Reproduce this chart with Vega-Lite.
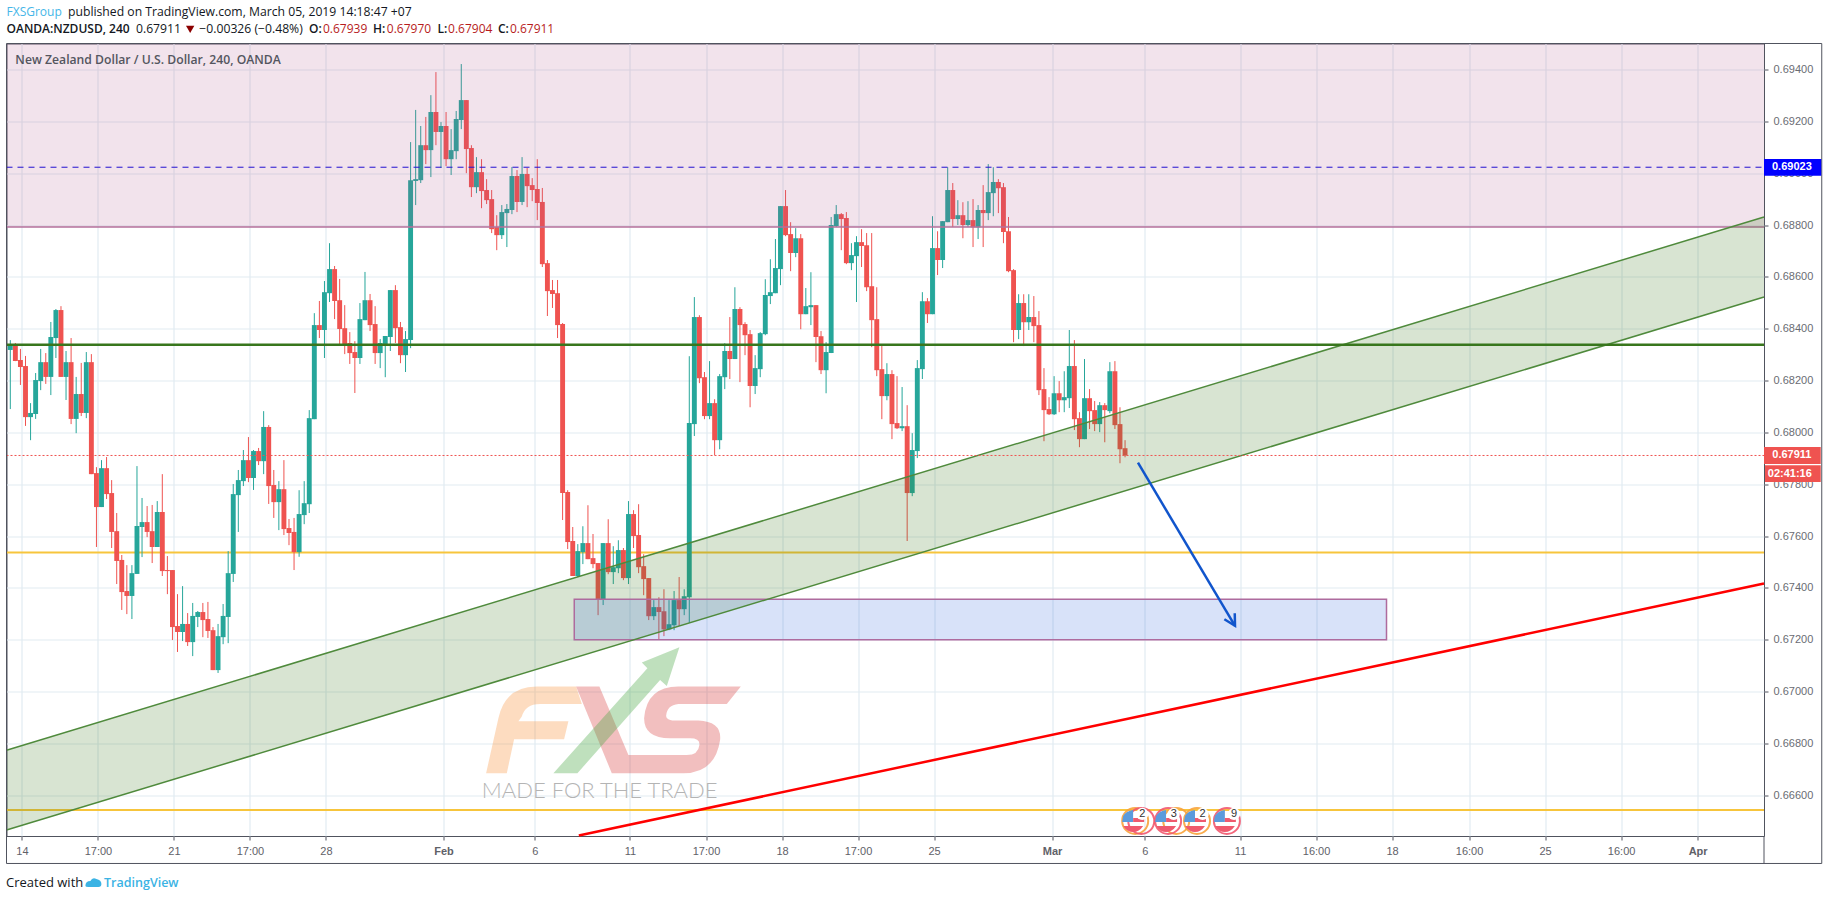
{"$schema":"https://vega.github.io/schema/vega-lite/v6.json","width":1757.5,"height":792.5,"autosize":{"type":"none"},"padding":{"left":6.5,"top":43.5,"right":64,"bottom":64},"background":"#ffffff","config":{"view":{"stroke":"#50535e","strokeWidth":1},"text":{"font":"Open Sans"}},
"datasets":{"candles":[
{"i":0,"o":0.68318,"h":0.68356,"l":0.6809,"c":0.68337},{"i":1,"o":0.68337,"h":0.68345,"l":0.68275,"c":0.68275},{"i":2,"o":0.68279,"h":0.68322,"l":0.68183,"c":0.68252},{"i":3,"o":0.68256,"h":0.68295,"l":0.68025,"c":0.68059},{"i":4,"o":0.68059,"h":0.68113,"l":0.6797,"c":0.68075},{"i":5,"o":0.68071,"h":0.68229,"l":0.68052,"c":0.68202},{"i":6,"o":0.68198,"h":0.68322,"l":0.68163,"c":0.68271},{"i":7,"o":0.68271,"h":0.68306,"l":0.68187,"c":0.68214},{"i":8,"o":0.68214,"h":0.68426,"l":0.68144,"c":0.68368},{"i":9,"o":0.68364,"h":0.68476,"l":0.68287,"c":0.68472},
{"i":10,"o":0.68472,"h":0.68487,"l":0.68214,"c":0.68214},{"i":11,"o":0.68214,"h":0.68314,"l":0.68125,"c":0.68271},{"i":12,"o":0.68271,"h":0.68364,"l":0.68032,"c":0.68052},{"i":13,"o":0.68052,"h":0.68214,"l":0.67997,"c":0.68148},{"i":14,"o":0.68148,"h":0.68268,"l":0.68063,"c":0.68075},{"i":15,"o":0.68075,"h":0.6831,"l":0.68055,"c":0.68271},{"i":16,"o":0.68271,"h":0.68302,"l":0.67839,"c":0.67839},{"i":17,"o":0.67843,"h":0.67866,"l":0.67558,"c":0.67712},{"i":18,"o":0.67712,"h":0.67893,"l":0.67712,"c":0.67862},{"i":19,"o":0.67862,"h":0.67905,"l":0.67743,"c":0.67762},
{"i":20,"o":0.67766,"h":0.67816,"l":0.67554,"c":0.67616},{"i":21,"o":0.67619,"h":0.67689,"l":0.67415,"c":0.67504},{"i":22,"o":0.67508,"h":0.67527,"l":0.67315,"c":0.67384},{"i":23,"o":0.67388,"h":0.67488,"l":0.67299,"c":0.67369},{"i":24,"o":0.67369,"h":0.67488,"l":0.6728,"c":0.67457},{"i":25,"o":0.67454,"h":0.6787,"l":0.67454,"c":0.67639},{"i":26,"o":0.67635,"h":0.67747,"l":0.67519,"c":0.67654},{"i":27,"o":0.67654,"h":0.67716,"l":0.67596,"c":0.67616},{"i":28,"o":0.67619,"h":0.6772,"l":0.67496,"c":0.67558},{"i":29,"o":0.67558,"h":0.67735,"l":0.67558,"c":0.67693},
{"i":30,"o":0.67693,"h":0.67839,"l":0.67446,"c":0.67465},{"i":31,"o":0.67469,"h":0.67523,"l":0.67376,"c":0.67465},{"i":32,"o":0.67469,"h":0.67469,"l":0.67199,"c":0.67249},{"i":33,"o":0.67253,"h":0.67376,"l":0.67153,"c":0.6723},{"i":34,"o":0.6723,"h":0.67407,"l":0.67195,"c":0.67261},{"i":35,"o":0.67261,"h":0.67303,"l":0.67176,"c":0.67191},{"i":36,"o":0.67191,"h":0.67342,"l":0.67137,"c":0.67292},{"i":37,"o":0.67288,"h":0.67311,"l":0.67249,"c":0.67307},{"i":38,"o":0.67307,"h":0.67342,"l":0.6721,"c":0.67276},{"i":39,"o":0.6728,"h":0.67346,"l":0.67207,"c":0.67234},
{"i":40,"o":0.67237,"h":0.67249,"l":0.67083,"c":0.67083},{"i":41,"o":0.67083,"h":0.67261,"l":0.67072,"c":0.67214},{"i":42,"o":0.6721,"h":0.67338,"l":0.67183,"c":0.67292},{"i":43,"o":0.67288,"h":0.67542,"l":0.67187,"c":0.67457},{"i":44,"o":0.67454,"h":0.67801,"l":0.67423,"c":0.67762},{"i":45,"o":0.67758,"h":0.67855,"l":0.67616,"c":0.67816},{"i":46,"o":0.67812,"h":0.67932,"l":0.67793,"c":0.67893},{"i":47,"o":0.67893,"h":0.67982,"l":0.67808,"c":0.67824},{"i":48,"o":0.67824,"h":0.67932,"l":0.67778,"c":0.67928},{"i":49,"o":0.67928,"h":0.6794,"l":0.67874,"c":0.67889},
{"i":50,"o":0.67889,"h":0.68082,"l":0.67839,"c":0.68021},{"i":51,"o":0.68021,"h":0.68028,"l":0.67724,"c":0.67793},{"i":52,"o":0.67797,"h":0.67855,"l":0.6767,"c":0.67731},{"i":53,"o":0.67731,"h":0.67812,"l":0.67623,"c":0.67781},{"i":54,"o":0.67781,"h":0.67893,"l":0.67604,"c":0.67627},{"i":55,"o":0.67631,"h":0.67666,"l":0.67565,"c":0.67612},{"i":56,"o":0.67616,"h":0.6767,"l":0.67469,"c":0.67538},{"i":57,"o":0.67538,"h":0.67777,"l":0.6752,"c":0.67685},{"i":58,"o":0.67681,"h":0.67812,"l":0.67646,"c":0.67727},{"i":59,"o":0.67723,"h":0.68086,"l":0.67689,"c":0.68055},
{"i":60,"o":0.68051,"h":0.6846,"l":0.68051,"c":0.68414},{"i":61,"o":0.68414,"h":0.68507,"l":0.68364,"c":0.68395},{"i":62,"o":0.68395,"h":0.68584,"l":0.68287,"c":0.68541},{"i":63,"o":0.68537,"h":0.6873,"l":0.68503,"c":0.6863},{"i":64,"o":0.6863,"h":0.68642,"l":0.68437,"c":0.68507},{"i":65,"o":0.6851,"h":0.68592,"l":0.68341,"c":0.68399},{"i":66,"o":0.68402,"h":0.68491,"l":0.68302,"c":0.68341},{"i":67,"o":0.68345,"h":0.68387,"l":0.68264,"c":0.68306},{"i":68,"o":0.6831,"h":0.68352,"l":0.68152,"c":0.68287},{"i":69,"o":0.68287,"h":0.68499,"l":0.68264,"c":0.68437},
{"i":70,"o":0.68433,"h":0.68619,"l":0.68433,"c":0.6851},{"i":71,"o":0.6851,"h":0.68534,"l":0.68391,"c":0.68414},{"i":72,"o":0.68418,"h":0.68487,"l":0.68264,"c":0.68306},{"i":73,"o":0.68306,"h":0.6836,"l":0.68248,"c":0.68345},{"i":74,"o":0.68341,"h":0.68372,"l":0.68213,"c":0.68372},{"i":75,"o":0.68368,"h":0.68549,"l":0.68314,"c":0.68549},{"i":76,"o":0.68549,"h":0.68568,"l":0.68345,"c":0.68402},{"i":77,"o":0.68406,"h":0.68426,"l":0.68267,"c":0.68298},{"i":78,"o":0.68298,"h":0.68391,"l":0.68233,"c":0.6836},{"i":79,"o":0.68356,"h":0.6912,"l":0.68325,"c":0.68973},
{"i":80,"o":0.6897,"h":0.69244,"l":0.68877,"c":0.68977},{"i":81,"o":0.68973,"h":0.69182,"l":0.68962,"c":0.69108},{"i":82,"o":0.69108,"h":0.69217,"l":0.69035,"c":0.69089},{"i":83,"o":0.69089,"h":0.69301,"l":0.68985,"c":0.69236},{"i":84,"o":0.69236,"h":0.6939,"l":0.69108,"c":0.69159},{"i":85,"o":0.69159,"h":0.69197,"l":0.6902,"c":0.69182},{"i":86,"o":0.69182,"h":0.69236,"l":0.69027,"c":0.69054},{"i":87,"o":0.69054,"h":0.6917,"l":0.68993,"c":0.69089},{"i":88,"o":0.69085,"h":0.6924,"l":0.69054,"c":0.69209},{"i":89,"o":0.69205,"h":0.69421,"l":0.6917,"c":0.69282},
{"i":90,"o":0.69282,"h":0.69282,"l":0.69,"c":0.69093},{"i":91,"o":0.69097,"h":0.69108,"l":0.68908,"c":0.68946},{"i":92,"o":0.68946,"h":0.69062,"l":0.68923,"c":0.69004},{"i":93,"o":0.69004,"h":0.69054,"l":0.68865,"c":0.68931},{"i":94,"o":0.68935,"h":0.68977,"l":0.68881,"c":0.68896},{"i":95,"o":0.689,"h":0.68935,"l":0.68769,"c":0.68784},{"i":96,"o":0.68792,"h":0.68838,"l":0.68703,"c":0.68761},{"i":97,"o":0.68761,"h":0.68877,"l":0.68746,"c":0.6885},{"i":98,"o":0.68846,"h":0.68881,"l":0.68715,"c":0.68862},{"i":99,"o":0.68858,"h":0.69024,"l":0.68842,"c":0.68989},
{"i":100,"o":0.68989,"h":0.69012,"l":0.6885,"c":0.68889},{"i":101,"o":0.68889,"h":0.69062,"l":0.68877,"c":0.68997},{"i":102,"o":0.68997,"h":0.6902,"l":0.68869,"c":0.6895},{"i":103,"o":0.68954,"h":0.68981,"l":0.68892,"c":0.68935},{"i":104,"o":0.68939,"h":0.69054,"l":0.68819,"c":0.68885},{"i":105,"o":0.68889,"h":0.68943,"l":0.68638,"c":0.68649},{"i":106,"o":0.68653,"h":0.68665,"l":0.68449,"c":0.68545},{"i":107,"o":0.68549,"h":0.68588,"l":0.6848,"c":0.68534},{"i":108,"o":0.68537,"h":0.68588,"l":0.68364,"c":0.68414},{"i":109,"o":0.68418,"h":0.68422,"l":0.67662,"c":0.67766},
{"i":110,"o":0.6777,"h":0.67777,"l":0.6755,"c":0.67577},{"i":111,"o":0.67581,"h":0.67635,"l":0.67446,"c":0.67446},{"i":112,"o":0.67446,"h":0.67569,"l":0.67442,"c":0.67542},{"i":113,"o":0.67538,"h":0.67638,"l":0.67492,"c":0.67573},{"i":114,"o":0.67573,"h":0.67719,"l":0.67511,"c":0.67511},{"i":115,"o":0.67515,"h":0.67608,"l":0.67476,"c":0.67492},{"i":116,"o":0.67496,"h":0.67496,"l":0.67295,"c":0.67357},{"i":117,"o":0.67357,"h":0.67573,"l":0.67334,"c":0.67573},{"i":118,"o":0.67573,"h":0.67665,"l":0.67453,"c":0.67461},{"i":119,"o":0.67461,"h":0.67561,"l":0.67415,"c":0.6748},
{"i":120,"o":0.67476,"h":0.67584,"l":0.67457,"c":0.67546},{"i":121,"o":0.67546,"h":0.67554,"l":0.6743,"c":0.67438},{"i":122,"o":0.67438,"h":0.67735,"l":0.67415,"c":0.67685},{"i":123,"o":0.67685,"h":0.677,"l":0.67554,"c":0.676},{"i":124,"o":0.67604,"h":0.67723,"l":0.67457,"c":0.6748},{"i":125,"o":0.67484,"h":0.6753,"l":0.67372,"c":0.67434},{"i":126,"o":0.67438,"h":0.67438,"l":0.67276,"c":0.67291},{"i":127,"o":0.67291,"h":0.67353,"l":0.67276,"c":0.67326},{"i":128,"o":0.67326,"h":0.67364,"l":0.67201,"c":0.67307},{"i":129,"o":0.6731,"h":0.67395,"l":0.67214,"c":0.6724},
{"i":130,"o":0.6724,"h":0.67353,"l":0.67237,"c":0.6726},{"i":131,"o":0.67256,"h":0.67388,"l":0.67237,"c":0.67353},{"i":132,"o":0.67353,"h":0.67442,"l":0.67253,"c":0.67318},{"i":133,"o":0.67318,"h":0.67395,"l":0.67295,"c":0.67368},{"i":134,"o":0.67364,"h":0.68294,"l":0.67265,"c":0.68036},{"i":135,"o":0.68032,"h":0.68522,"l":0.67986,"c":0.68445},{"i":136,"o":0.68445,"h":0.68452,"l":0.6819,"c":0.68209},{"i":137,"o":0.68213,"h":0.68233,"l":0.68051,"c":0.68063},{"i":138,"o":0.68063,"h":0.68275,"l":0.68051,"c":0.68113},{"i":139,"o":0.68113,"h":0.68128,"l":0.67912,"c":0.6797},
{"i":140,"o":0.6797,"h":0.68225,"l":0.67935,"c":0.68217},{"i":141,"o":0.68213,"h":0.68344,"l":0.68167,"c":0.68314},{"i":142,"o":0.68314,"h":0.68445,"l":0.68206,"c":0.68283},{"i":143,"o":0.68283,"h":0.6856,"l":0.68283,"c":0.68476},{"i":144,"o":0.68476,"h":0.68483,"l":0.68194,"c":0.68414},{"i":145,"o":0.68418,"h":0.68425,"l":0.68298,"c":0.68375},{"i":146,"o":0.68379,"h":0.68395,"l":0.68097,"c":0.68179},{"i":147,"o":0.68179,"h":0.68298,"l":0.68148,"c":0.68248},{"i":148,"o":0.68244,"h":0.68387,"l":0.68213,"c":0.68383},{"i":149,"o":0.68379,"h":0.68591,"l":0.68375,"c":0.6853},
{"i":150,"o":0.68526,"h":0.68668,"l":0.68495,"c":0.68541},{"i":151,"o":0.68537,"h":0.68746,"l":0.68537,"c":0.68634},{"i":152,"o":0.6863,"h":0.68873,"l":0.68568,"c":0.68873},{"i":153,"o":0.68873,"h":0.68935,"l":0.68757,"c":0.68761},{"i":154,"o":0.68765,"h":0.68811,"l":0.68622,"c":0.68692},{"i":155,"o":0.68692,"h":0.68788,"l":0.68676,"c":0.68749},{"i":156,"o":0.68749,"h":0.68765,"l":0.68398,"c":0.68456},{"i":157,"o":0.68456,"h":0.68557,"l":0.68456,"c":0.68487},{"i":158,"o":0.68483,"h":0.68618,"l":0.68414,"c":0.68491},{"i":159,"o":0.68491,"h":0.68491,"l":0.68271,"c":0.68368},
{"i":160,"o":0.68371,"h":0.68391,"l":0.68225,"c":0.6824},{"i":161,"o":0.6824,"h":0.68348,"l":0.68151,"c":0.6831},{"i":162,"o":0.68306,"h":0.68831,"l":0.68306,"c":0.688},{"i":163,"o":0.68796,"h":0.68877,"l":0.68792,"c":0.68842},{"i":164,"o":0.68842,"h":0.68846,"l":0.68703,"c":0.68823},{"i":165,"o":0.68827,"h":0.6885,"l":0.68649,"c":0.68653},{"i":166,"o":0.68653,"h":0.6873,"l":0.68626,"c":0.68684},{"i":167,"o":0.6868,"h":0.68757,"l":0.68503,"c":0.68734},{"i":168,"o":0.68734,"h":0.68784,"l":0.68638,"c":0.68719},{"i":169,"o":0.68722,"h":0.68769,"l":0.68545,"c":0.6856},
{"i":170,"o":0.68564,"h":0.68769,"l":0.68329,"c":0.68433},{"i":171,"o":0.68437,"h":0.6856,"l":0.68217,"c":0.6824},{"i":172,"o":0.68244,"h":0.68341,"l":0.68051,"c":0.6814},{"i":173,"o":0.6814,"h":0.68267,"l":0.68124,"c":0.68225},{"i":174,"o":0.68225,"h":0.6824,"l":0.67974,"c":0.68032},{"i":175,"o":0.68036,"h":0.68217,"l":0.68013,"c":0.68016},{"i":176,"o":0.68016,"h":0.68175,"l":0.68005,"c":0.68024},{"i":177,"o":0.68024,"h":0.68105,"l":0.67581,"c":0.67766},{"i":178,"o":0.67766,"h":0.67997,"l":0.67754,"c":0.67932},{"i":179,"o":0.67928,"h":0.68279,"l":0.67901,"c":0.68248},
{"i":180,"o":0.68244,"h":0.68541,"l":0.68206,"c":0.68506},{"i":181,"o":0.68506,"h":0.68518,"l":0.68422,"c":0.68456},{"i":182,"o":0.68456,"h":0.68834,"l":0.68456,"c":0.68711},{"i":183,"o":0.68711,"h":0.68776,"l":0.68607,"c":0.68665},{"i":184,"o":0.68665,"h":0.68815,"l":0.68634,"c":0.68815},{"i":185,"o":0.68811,"h":0.69023,"l":0.68811,"c":0.68935},{"i":186,"o":0.68935,"h":0.68962,"l":0.68792,"c":0.68823},{"i":187,"o":0.68823,"h":0.68896,"l":0.688,"c":0.68838},{"i":188,"o":0.68838,"h":0.68888,"l":0.68749,"c":0.688},{"i":189,"o":0.688,"h":0.68892,"l":0.68792,"c":0.68819},
{"i":190,"o":0.68819,"h":0.689,"l":0.68715,"c":0.68791},{"i":191,"o":0.68791,"h":0.68877,"l":0.68746,"c":0.68858},{"i":192,"o":0.68858,"h":0.68954,"l":0.68715,"c":0.68846},{"i":193,"o":0.68846,"h":0.69035,"l":0.68819,"c":0.68927},{"i":194,"o":0.68923,"h":0.69023,"l":0.68834,"c":0.68966},{"i":195,"o":0.68966,"h":0.68977,"l":0.68846,"c":0.68942},{"i":196,"o":0.68946,"h":0.68962,"l":0.6873,"c":0.68773},{"i":197,"o":0.68776,"h":0.68831,"l":0.68618,"c":0.68622},{"i":198,"o":0.68626,"h":0.6863,"l":0.68348,"c":0.68395},{"i":199,"o":0.68395,"h":0.68533,"l":0.6836,"c":0.68499},
{"i":200,"o":0.68499,"h":0.68533,"l":0.68333,"c":0.68425},{"i":201,"o":0.68425,"h":0.68533,"l":0.68395,"c":0.68445},{"i":202,"o":0.68445,"h":0.68526,"l":0.68348,"c":0.6841},{"i":203,"o":0.68414,"h":0.68468,"l":0.68144,"c":0.68163},{"i":204,"o":0.68167,"h":0.68248,"l":0.67966,"c":0.68086},{"i":205,"o":0.6809,"h":0.68136,"l":0.68067,"c":0.6807},{"i":206,"o":0.6807,"h":0.68217,"l":0.68067,"c":0.68151},{"i":207,"o":0.68151,"h":0.68198,"l":0.68078,"c":0.68124},{"i":208,"o":0.68124,"h":0.68236,"l":0.68078,"c":0.68136},{"i":209,"o":0.68132,"h":0.68395,"l":0.68094,"c":0.68256},
{"i":210,"o":0.68256,"h":0.68356,"l":0.68009,"c":0.68051},{"i":211,"o":0.68055,"h":0.68078,"l":0.67943,"c":0.67974},{"i":212,"o":0.67974,"h":0.68283,"l":0.67974,"c":0.68132},{"i":213,"o":0.68132,"h":0.68167,"l":0.68013,"c":0.68082},{"i":214,"o":0.68086,"h":0.68121,"l":0.68005,"c":0.68032},{"i":215,"o":0.68032,"h":0.68117,"l":0.68001,"c":0.68105},{"i":216,"o":0.68105,"h":0.68113,"l":0.67962,"c":0.68086},{"i":217,"o":0.68082,"h":0.68271,"l":0.68074,"c":0.68236},{"i":218,"o":0.68236,"h":0.68275,"l":0.68013,"c":0.68028},{"i":219,"o":0.68032,"h":0.68097,"l":0.67881,"c":0.67935},
{"i":220,"o":0.67939,"h":0.6797,"l":0.67904,"c":0.67911}
]},
"encoding":{
"x":{"field":"i","type":"quantitative","scale":{"domain":[-0.75,346.1],"nice":false,"zero":false,"padding":0},"axis":{"title":null,"orient":"bottom","values":[2.3,17.3,32.3,47.3,62.3,85.5,103.5,122.3,137.3,152.3,167.3,182.3,205.6,223.9,242.7,257.7,272.7,287.9,302.9,317.9,333],"labelExpr":"{'2.3':'14','17.3':'17:00','32.3':'21','47.3':'17:00','62.3':'28','85.5':'Feb','103.5':'6','122.3':'11','137.3':'17:00','152.3':'18','167.3':'17:00','182.3':'25','205.6':'Mar','223.9':'6','242.7':'11','257.7':'16:00','272.7':'18','287.9':'16:00','302.9':'25','317.9':'16:00','333':'Apr'}[datum.value]","labelFontWeight":{"condition":{"test":"indexof([85.5,205.6,333],datum.value)>=0","value":"bold"},"value":"normal"},"labelFont":"Liberation Sans","labelFontSize":11,"labelColor":"#5f6168","labelOverlap":false,"labelFlush":false,"labelBound":false,"labelPadding":5,"tickSize":4,"tickColor":"#50535e","domain":false,"grid":true,"gridColor":"#e1ebf2","gridWidth":1.2}},
"y":{"field":"p","type":"quantitative","scale":{"domain":[0.66443,0.695003],"nice":false,"zero":false},"axis":{"title":null,"orient":"right","values":[0.666,0.668,0.67,0.672,0.674,0.676,0.678,0.68,0.682,0.684,0.686,0.688,0.69,0.692,0.694],"format":".5f","labelFont":"Liberation Sans","labelFontSize":11,"labelColor":"#6a6c73","labelOverlap":false,"labelFlush":false,"labelBound":false,"labelPadding":5,"tickSize":4,"tickColor":"#50535e","domain":false,"grid":true,"gridColor":"#e1ebf2","gridWidth":1.2}}
},
"layer":[
{"data":{"values":[{"i":116.4,"p":0.66968}]},"mark":{"type":"point","filled":true,"size":4,"opacity":0.3,"color":"#f98c2e","shape":"M-114,73.3 L-101.7,18.3 Q-95,-13.3 -63.3,-13.3 L-24,-13.3 L-18.3,4 L-60,4 Q-75,4 -78.3,16.7 L-81.7,21.3 L-31.7,21.3 L-36,39.3 L-86,39.3 L-93.3,73.3 Z"}},
{"data":{"values":[{"i":116.4,"p":0.66968}]},"mark":{"type":"point","filled":true,"size":4,"opacity":0.3,"color":"#d42a2a","shape":"M-24,-13.3 L-0.7,-13.3 L28.3,55 L86.7,55 Q98.3,55 99.3,45 Q100,38.3 90,38.3 L70,38.3 Q44,38.3 44,18.3 Q46.7,-13.3 78.3,-13.3 L140.7,-13.3 L126.7,4 L78.3,4 Q66.7,5 66,16 Q66,20.7 76.7,20.7 L98.3,20.7 Q121.7,21.7 120,40 Q115,73.3 83.3,73.3 L11.7,73.3 Z"}},
{"data":{"values":[{"i":116.4,"p":0.66968}]},"mark":{"type":"point","filled":true,"size":4,"opacity":0.35,"color":"#48a642","shape":"M-46.7,73.3 L-22.7,73.3 L60,-20 L66.7,-14 L79.3,-52.7 L41.7,-37.3 L47.3,-31.7 Z"}},
{"data":{"values":[{"i":116.3,"p":0.66615,"t":"MADE FOR THE TRADE"}]},"mark":{"type":"text","font":"Lato","fontSize":22,"fontWeight":300,"color":"#b4b4b4","align":"center","baseline":"middle"},"encoding":{"text":{"field":"t"}}},
{"data":{"values":[{"g":"a","i":-0.75,"p":0.67537},{"g":"a","i":346.1,"p":0.67537},{"g":"b","i":-0.75,"p":0.66543},{"g":"b","i":346.1,"p":0.66543}]},"mark":{"type":"line","color":"#f7c53c","strokeWidth":2},"encoding":{"detail":{"field":"g"}}},
{"data":{"name":"candles"},"mark":{"type":"rule","strokeWidth":1},"encoding":{"y":{"field":"l","type":"quantitative","scale":{"domain":[0.66443,0.695003],"nice":false,"zero":false},"axis":{"title":null}},"y2":{"field":"h"},"color":{"condition":{"test":"datum.c>=datum.o","value":"#26a69a"},"value":"#ef5350"}}},
{"data":{"name":"candles"},"mark":{"type":"bar","width":4.9},"encoding":{"y":{"field":"o","type":"quantitative","scale":{"domain":[0.66443,0.695003],"nice":false,"zero":false},"axis":{"title":null}},"y2":{"field":"c"},"color":{"condition":{"test":"datum.c>=datum.o","value":"#26a69a"},"value":"#ef5350"}}},
{"data":{"values":[{"i":-0.75,"i2":346.1,"p":0.68792,"p2":0.695003}]},"mark":{"type":"rect","color":"#b0538a","opacity":0.16},"encoding":{"x2":{"field":"i2"},"y2":{"field":"p2"}}},
{"data":{"values":[{"i":-0.75,"p":0.68792},{"i":346.1,"p":0.68792}]},"mark":{"type":"line","color":"#b5709b","strokeWidth":1.5}},
{"data":{"values":[{"i":-0.75,"p":0.66774,"p2":0.66466},{"i":346.1,"p":0.68831,"p2":0.68522}]},"mark":{"type":"area","color":"#3d7a1f","opacity":0.2},"encoding":{"y2":{"field":"p2"}}},
{"data":{"values":[{"i":111.3,"i2":271.6,"p":0.67356,"p2":0.672}]},"mark":{"type":"rect","fill":"#3a6fe0","fillOpacity":0.2,"stroke":"#ae6b9e","strokeWidth":1.5,"strokeOpacity":1},"encoding":{"x2":{"field":"i2"},"y2":{"field":"p2"}}},
{"data":{"values":[{"g":"up","i":-0.75,"p":0.66774},{"g":"up","i":346.1,"p":0.68831},{"g":"lo","i":-0.75,"p":0.66466},{"g":"lo","i":346.1,"p":0.68522}]},"mark":{"type":"line","color":"#4f8a3c","strokeWidth":1.5},"encoding":{"detail":{"field":"g"}}},
{"data":{"values":[{"i":-0.75,"p":0.68338},{"i":346.1,"p":0.68338}]},"mark":{"type":"line","color":"#38761d","strokeWidth":2.5}},
{"data":{"values":[{"i":112.2,"p":0.66445},{"i":346.1,"p":0.67417}]},"mark":{"type":"line","color":"#ff0000","strokeWidth":2.5}},
{"data":{"values":[{"i":-0.75,"p":0.67911},{"i":346.1,"p":0.67911}]},"mark":{"type":"line","color":"#ef5350","strokeWidth":1,"strokeDash":[2,2]}},
{"data":{"values":[{"i":-0.75,"p":0.69023},{"i":346.1,"p":0.69023}]},"mark":{"type":"line","color":"#2010d0","strokeWidth":1,"strokeDash":[6,5]}},
{"data":{"values":[{"g":"s","k":0,"i":222.55,"p":0.67883},{"g":"s","k":1,"i":241.7,"p":0.67254},{"g":"h","k":0,"i":239.6,"p":0.67279},{"g":"h","k":1,"i":241.7,"p":0.67254},{"g":"h","k":2,"i":241.65,"p":0.67302}]},"mark":{"type":"line","color":"#1155cc","strokeWidth":2.5},"encoding":{"detail":{"field":"g"},"order":{"field":"k"}}},
{"data":{"values":[{"i":222.0,"p":0.66501},{"i":230.1,"p":0.66501},{"i":234.2,"p":0.66501}]},"mark":{"type":"point","shape":"circle","size":676,"filled":false,"color":"#f9a43c","strokeWidth":2,"opacity":0.9}},
{"data":{"values":[{"i":223.2,"p":0.66501},{"i":228.5,"p":0.66501},{"i":240.1,"p":0.66501}]},"mark":{"type":"point","shape":"circle","size":676,"filled":false,"color":"#f2586f","strokeWidth":2,"opacity":0.9}},
{"data":{"values":[{"i":221.6,"p":0.66501},{"i":228.1,"p":0.66501},{"i":233.8,"p":0.66501},{"i":239.7,"p":0.66501}]},"mark":{"type":"point","filled":true,"size":4,"opacity":1,"color":"#5b9bdc","shape":"M-10,-5 Q-7,-10 0,-11 L0,1 L-11,1 Z"}},
{"data":{"values":[{"i":221.6,"p":0.66501},{"i":228.1,"p":0.66501},{"i":233.8,"p":0.66501},{"i":239.7,"p":0.66501}]},"mark":{"type":"point","filled":true,"size":4,"opacity":1,"color":"#ef5a6e","shape":"M0,-3 L11,-3 L11,1 L0,1 Z M-10,5 L10,5 Q6,11 0,11 Q-6,11 -10,5 Z"}},
{"data":{"values":[{"i":223.4,"p":0.66528},{"i":229.6,"p":0.66528},{"i":235.3,"p":0.66528},{"i":241.5,"p":0.66528}]},"mark":{"type":"point","shape":"circle","filled":true,"size":150,"color":"#ffffff","opacity":1}},
{"data":{"values":[{"i":223.4,"p":0.66528,"t":"2"},{"i":229.6,"p":0.66528,"t":"3"},{"i":235.3,"p":0.66528,"t":"2"},{"i":241.5,"p":0.66528,"t":"9"}]},"mark":{"type":"text","font":"Liberation Sans","fontSize":11,"color":"#333333","align":"center","baseline":"middle"},"encoding":{"text":{"field":"t"}}},
{"data":{"values":[{"k":0,"i":-0.75,"p":0.695003},{"k":1,"i":357.5,"p":0.695003},{"k":2,"i":357.5,"p":0.66337},{"k":3,"i":-0.75,"p":0.66337},{"k":4,"i":-0.75,"p":0.695003}]},"mark":{"type":"line","color":"#50535e","strokeWidth":1},"encoding":{"order":{"field":"k"}}},
{"data":{"values":[{"i":346.1,"p":0.66443},{"i":346.1,"p":0.66337}]},"mark":{"type":"line","color":"#50535e","strokeWidth":1}},
{"data":{"values":[{"i":346.1,"i2":357.4,"p":0.69055,"p2":0.6899}]},"mark":{"type":"rect","color":"#0000ff","opacity":1},"encoding":{"x2":{"field":"i2"},"y2":{"field":"p2"}}},
{"data":{"values":[{"i":346.1,"i2":357.3,"p":0.67944,"p2":0.67878},{"i":346.3,"i2":357.3,"p":0.67873,"p2":0.67809}]},"mark":{"type":"rect","color":"#ef5350","opacity":1},"encoding":{"x2":{"field":"i2"},"y2":{"field":"p2"}}},
{"data":{"values":[{"i":351.6,"p":0.69023,"t":"0.69023"},{"i":351.6,"p":0.67911,"t":"0.67911"},{"i":351.2,"p":0.67841,"t":"02:41:16"}]},"mark":{"type":"text","font":"Liberation Sans","fontSize":11,"fontWeight":"bold","color":"#ffffff","align":"center","baseline":"middle"},"encoding":{"text":{"field":"t"}}},
{"data":{"values":[{"i":-0.75,"p":0.6962,"t":"FXSGroup"}]},"mark":{"type":"text","font":"Open Sans","fontSize":12,"color":"#45b6e8","align":"left","baseline":"middle"},"encoding":{"text":{"field":"t"}}},
{"data":{"values":[{"i":11.39,"p":0.6962,"t":"published on TradingView.com, March 05, 2019 14:18:47 +07"},{"i":24.8,"p":0.69555,"t":"0.67911"},{"i":37.3,"p":0.69555,"t":"−0.00326 (−0.48%)"}]},"mark":{"type":"text","font":"Open Sans","fontSize":12.2,"color":"#131722","align":"left","baseline":"middle"},"encoding":{"text":{"field":"t"}}},
{"data":{"values":[{"i":-0.85,"p":0.66262,"t":"Created with"}]},"mark":{"type":"text","font":"Open Sans","fontSize":13,"color":"#131722","align":"left","baseline":"middle"},"encoding":{"text":{"field":"t"}}},
{"data":{"values":[{"i":-0.75,"p":0.69555,"t":"OANDA:NZDUSD, 240"},{"i":58.95,"p":0.69555,"t":"O:"},{"i":71.6,"p":0.69555,"t":"H:"},{"i":84.3,"p":0.69555,"t":"L:"},{"i":96.25,"p":0.69555,"t":"C:"}]},"mark":{"type":"text","font":"Open Sans","fontSize":12,"fontWeight":600,"color":"#131722","align":"left","baseline":"middle"},"encoding":{"text":{"field":"t"}}},
{"data":{"values":[{"i":61.7,"p":0.69555,"t":"0.67939"},{"i":74.3,"p":0.69555,"t":"0.67970"},{"i":86.4,"p":0.69555,"t":"0.67904"},{"i":98.6,"p":0.69555,"t":"0.67911"}]},"mark":{"type":"text","font":"Open Sans","fontSize":12,"color":"#b71c1c","align":"left","baseline":"middle"},"encoding":{"text":{"field":"t"}}},
{"data":{"values":[{"i":35.5,"p":0.69555}]},"mark":{"type":"point","shape":"triangle-down","filled":true,"size":70,"color":"#8b0000","opacity":1}},
{"data":{"values":[{"i":1.0,"p":0.69435,"t":"New Zealand Dollar / U.S. Dollar, 240, OANDA"}]},"mark":{"type":"text","font":"Open Sans","fontSize":12.2,"fontWeight":600,"color":"#54565f","align":"left","baseline":"middle"},"encoding":{"text":{"field":"t"}}},
{"data":{"values":[{"i":18.5,"p":0.66262,"t":"TradingView"}]},"mark":{"type":"text","font":"Open Sans","fontSize":12.5,"fontWeight":600,"color":"#3bb3e4","align":"left","baseline":"middle"},"encoding":{"text":{"field":"t"}}},
{"data":{"values":[{"i":16.4,"p":0.66262}]},"mark":{"type":"point","filled":true,"size":4,"opacity":1,"color":"#3bb3e4","shape":"M-8,3 Q-8,-2 -3,-2 Q-1,-6 3,-4 Q8,-3 8,1 Q8,4 5,4 L-5,4 Q-8,4 -8,3 Z"}}
]}
